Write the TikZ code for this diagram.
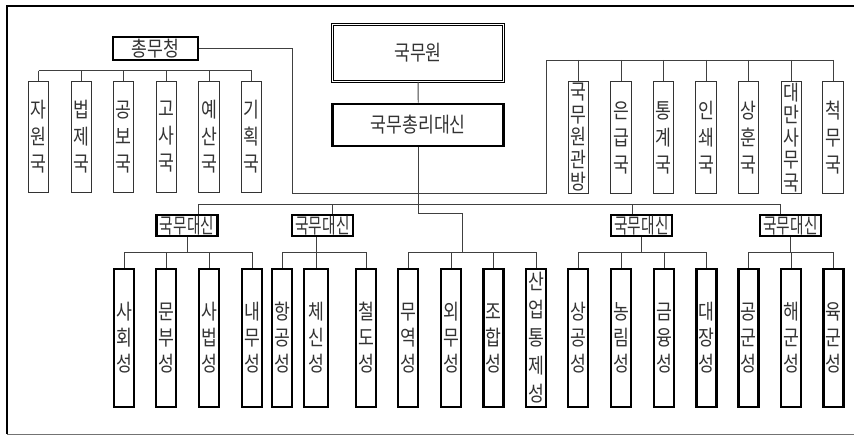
\documentclass[tikz,border=0pt]{standalone}
\usepackage{fontspec}
\newfontfamily\kfont[FakeStretch=0.82]{Noto Sans CJK KR}
\newfontfamily\knarrow[FakeStretch=0.7]{Noto Sans CJK KR}
\begin{document}
\begin{tikzpicture}[x=1pt,y=-1pt,
  conn/.style={draw=black!75, line width=0.9pt},
  topbox/.style={draw=black!80, line width=1.2pt, minimum width=20.5pt, minimum height=111pt,
    inner sep=0pt, align=center, text=black!80, font=\kfont\fontsize{21}{#1}\selectfont},
  topbox/.default=27,
  botbox/.style={draw=black, line width=2.5pt, minimum width=20pt, minimum height=138pt,
    inner sep=0pt, align=center, text=black!80, font=\kfont\fontsize{21}{#1}\selectfont},
  botbox/.default=26,
  minbox/.style={draw=black, line width=2.8pt, minimum width=61pt, minimum height=21pt,
    inner sep=0pt, text=black!80, font=\knarrow\fontsize{21}{24}\selectfont},
  bigbox/.style={draw=black, line width=2.8pt, inner sep=0pt, text=black!80, font=\kfont\fontsize{21}{24}\selectfont},
]
\useasboundingbox (0,0) rectangle (854,436);
% outer frame
\draw[line width=2.5pt] (854,6) -- (7,6) -- (7,434);
\draw[black!55, line width=1pt] (7,434) -- (854,434);

% top nodes
\node[draw=black, line width=0.8pt, double, double distance=1.8pt, minimum width=171pt, minimum height=57pt,
  inner sep=0pt, text=black!80, font=\kfont\fontsize{21}{24}\selectfont] (gmw) at (418,53) {국무원};
\node[bigbox, minimum width=171pt, minimum height=42pt] (pm) at (418.3,125) {국무총리대신};
\node[bigbox, minimum width=85pt, minimum height=23pt] (cm) at (155.5,48.5) {총무청};

% left bureaus
\node[topbox] (l1) at (38.5,137) {자\\원\\국};
\node[topbox] (l2) at (81.5,137) {법\\제\\국};
\node[topbox] (l3) at (123.5,137) {공\\보\\국};
\node[topbox] (l4) at (166.5,137) {고\\사\\국};
\node[topbox] (l5) at (209,137) {예\\산\\국};
\node[topbox] (l6) at (251.5,137) {기\\획\\국};

% right bureaus
\node[topbox=22.5, minimum height=112pt] (r1) at (578.5,137.5) {국\\무\\원\\관\\방};
\node[topbox, minimum height=112pt] (r2) at (621,137.5) {은\\급\\국};
\node[topbox, minimum height=112pt] (r3) at (663.5,137.5) {통\\계\\국};
\node[topbox, minimum height=112pt] (r4) at (706,137.5) {인\\쇄\\국};
\node[topbox, minimum height=112pt] (r5) at (748.5,137.5) {상\\훈\\국};
\node[topbox=22.5, minimum height=112pt] (r6) at (791.5,137.5) {대\\만\\사\\무\\국};
\node[topbox, minimum height=112pt] (r7) at (833,137.5) {척\\무\\국};

% ministers of state
\node[minbox] (m1) at (187,225.5) {국무대신};
\node[minbox] (m2) at (322.5,225.5) {국무대신};
\node[minbox] (m3) at (641.5,225.5) {국무대신};
\node[minbox] (m4) at (790.5,225.5) {국무대신};

% ministries
\node[botbox] (b1) at (124,338) {사\\회\\성};
\node[botbox] (b2) at (166,338) {문\\부\\성};
\node[botbox] (b3) at (209,338) {사\\법\\성};
\node[botbox] (b4) at (252,338) {내\\무\\성};
\node[botbox] (b5) at (282,338) {항\\공\\성};
\node[botbox, minimum width=24pt] (b6) at (316,338) {체\\신\\성};
\node[botbox] (b7) at (366,338) {철\\도\\성};
\node[botbox] (b8) at (408,338) {무\\역\\성};
\node[botbox] (b9) at (451,338) {외\\무\\성};
\node[botbox] (b10) at (493.5,338) {조\\합\\성};
\node[botbox=28] (b11) at (536,338) {산\\업\\통\\제\\성};
\node[botbox] (b12) at (578,338) {상\\공\\성};
\node[botbox] (b13) at (621,338) {농\\림\\성};
\node[botbox] (b14) at (664,338) {금\\융\\성};
\node[botbox] (b15) at (706.5,338) {대\\장\\성};
\node[botbox] (b16) at (748.5,338) {공\\군\\성};
\node[botbox] (b17) at (791,338) {해\\군\\성};
\node[botbox] (b18) at (833.5,338) {육\\군\\성};

% coordinates for buses
\coordinate (lb) at (0,70.7);
\coordinate (rb) at (0,60);
\coordinate (gb) at (0,252);
\coordinate (k1) at (292,193);
\coordinate (k2) at (546,60);
\coordinate (k3) at (462,213);
\coordinate (d1) at (198,204);
\coordinate (d2) at (332,204);
\coordinate (d3) at (632,204);
\coordinate (d4) at (780.5,204);

% connectors
\draw[conn] (gmw) -- (pm);
\draw[conn] (l1.north |- lb) -- (l6.north |- lb);
\foreach \n in {l1,l2,l3,l4,l5,l6} \draw[conn] (\n.north |- lb) -- (\n.north);
\draw[conn] (cm.east) -| (k1) -| (k2) -- (r7.north |- rb);
\foreach \n in {r1,r2,r3,r4,r5,r6,r7} \draw[conn] (\n.north |- rb) -- (\n.north);

\draw[conn] (d1) -- (d4);
\draw[conn] (d1) -- (d1 |- m1.north);
\draw[conn] (d2) -- (d2 |- m2.north);
\draw[conn] (d3) -- (d3 |- m3.north);
\draw[conn] (d4) -- (d4 |- m4.north);

\draw[conn] (pm.south) |- (k3) -- (k3 |- gb);

% group buses
\draw[conn] (m1.south) -- (m1.south |- gb);
\draw[conn] (b1.north |- gb) -- (b4.north |- gb);
\foreach \n in {b1,b2,b3,b4} \draw[conn] (\n.north |- gb) -- (\n.north);

\draw[conn] (m2.south -| b6.north) -- (b6.north);
\draw[conn] (b5.north |- gb) -- (b7.north |- gb);
\foreach \n in {b5,b7} \draw[conn] (\n.north |- gb) -- (\n.north);

\draw[conn] (b8.north |- gb) -- (b11.north |- gb);
\foreach \n in {b8,b9,b10,b11} \draw[conn] (\n.north |- gb) -- (\n.north);

\draw[conn] (m3.south) -- (m3.south |- gb);
\draw[conn] (b12.north |- gb) -- (b15.north |- gb);
\foreach \n in {b12,b13,b14,b15} \draw[conn] (\n.north |- gb) -- (\n.north);

\draw[conn] (m4.south) -- (m4.south |- gb);
\draw[conn] (b16.north |- gb) -- (b18.north |- gb);
\foreach \n in {b16,b17,b18} \draw[conn] (\n.north |- gb) -- (\n.north);
\end{tikzpicture}
\end{document}
